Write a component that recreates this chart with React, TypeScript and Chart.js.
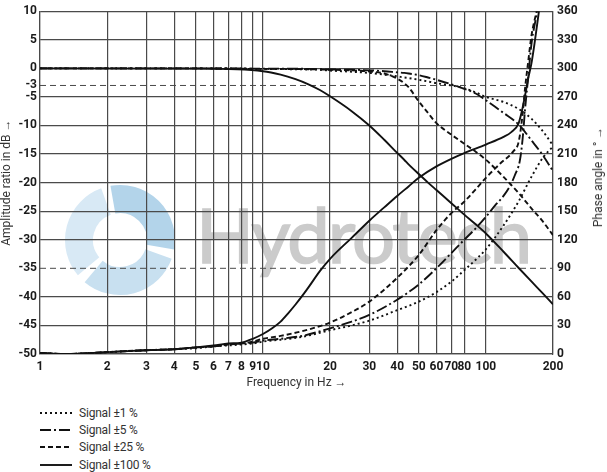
import React, { useEffect, useRef } from "react";
import { Chart, registerables } from "chart.js";

Chart.register(...registerables);

// ---- axis ticks ----
const xTicks = [1, 2, 3, 4, 5, 6, 7, 8, 9, 10, 20, 30, 40, 50, 60, 70, 80, 100, 200];
const ampTicks = [10, 5, 0, -3, -5, -10, -15, -20, -25, -30, -35, -40, -45, -50];
const phaseTicks = [0, 30, 60, 90, 120, 150, 180, 210, 240, 270, 300, 330, 360];
const refLevels = [-3, -35];

// ---- series labels ----
const seriesNames = ["Signal ±1 %", "Signal ±5 %", "Signal ±25 %", "Signal ±100 %"];

// ---- amplitude (dB) ----
const ampFreq = [1, 5, 10, 12, 14, 16, 18, 20, 25, 30, 35, 40, 43, 45, 50, 55, 60, 70, 80, 90, 100, 120, 140, 160, 180, 200];
const amp1 = [0, 0, -0.1, -0.13, -0.16, -0.2, -0.25, -0.4, -0.6, -0.8, -1.1, -1.4, -1.6, -1.7, -2.0, -2.3, -2.6, -3.0, -3.5, -4.2, -5.0, -5.9, -7.1, -8.8, -11.0, -13.5];
const amp5 = [0, 0, -0.05, -0.05, -0.07, -0.1, -0.15, -0.2, -0.25, -0.35, -0.5, -0.7, -0.8, -0.9, -1.2, -1.6, -2.0, -2.8, -3.6, -4.4, -5.6, -7.8, -9.8, -12.6, -15.2, -18.0];
const amp25 = [0, 0, -0.1, -0.1, -0.12, -0.15, -0.2, -0.25, -0.35, -0.55, -0.9, -1.8, -2.6, -3.3, -5.8, -7.8, -9.6, -11.6, -13.2, -14.6, -16.0, -19.0, -21.8, -24.5, -26.8, -29.2];
const amp100 = [0, -0.05, -0.5, -1.1, -1.9, -2.8, -3.8, -4.9, -7.5, -10.0, -12.5, -14.8, -16.0, -16.8, -18.5, -20.0, -21.3, -23.6, -25.6, -27.3, -28.9, -32.1, -34.9, -37.3, -39.4, -41.3];

// ---- phase (deg) ----
const phase1Freq = [1, 1.3, 2, 3, 4, 5, 6, 7, 8, 9, 10, 12, 15, 20, 25, 30, 40, 50, 60, 70, 80, 90, 100, 120, 140, 160, 180, 200];
const phase1 = [1, 0, 2, 4, 5, 6, 8, 9, 10, 11, 13, 15, 18, 25, 30, 35, 46, 55, 65, 76, 88, 99, 110, 135, 160, 186, 206, 218];

const phase5Freq = [1, 1.3, 2, 3, 4, 5, 6, 7, 8, 9, 10, 12, 15, 20, 25, 30, 40, 50, 60, 70, 80, 90, 100, 110, 120, 128, 135, 142, 146, 150, 155, 160, 170];
const phase5 = [1, 0, 2, 4, 5, 7, 8, 10, 11, 12, 14, 16, 19, 27, 34, 41, 57, 73, 90, 106, 120, 132, 144, 156, 166, 176, 188, 203, 225, 258, 292, 325, 360];

const phase25Freq = [1, 1.3, 2, 3, 4, 5, 6, 7, 8, 9, 10, 12, 15, 20, 25, 30, 40, 50, 60, 70, 80, 90, 100, 116, 133, 140, 145, 150, 155, 160, 169];
const phase25 = [1, 0, 2, 4, 5, 7, 8, 10, 11, 13, 16, 19, 24, 33, 44, 55, 80, 104, 130, 148, 160, 173, 185, 200, 213, 222, 245, 280, 308, 334, 360];

const phase100Freq = [1, 1.3, 2, 3, 4, 5, 6, 7, 8, 9, 10, 11, 12, 13, 14, 15, 16, 18, 20, 25, 30, 35, 40, 45, 50, 60, 70, 80, 100, 120, 130, 140, 145, 150, 155, 160, 165, 173];
const phase100 = [1, 0, 2, 4, 5, 7, 9, 11, 12, 16, 21, 27, 34, 43, 52, 61, 70, 87, 100, 122, 140, 154, 166, 176, 185, 197, 205, 211, 220, 228, 233, 242, 255, 272, 290, 305, 325, 360];

const styles = [
  { dash: [2, 3], svgDash: "2 3" },
  { dash: [11, 3, 2, 3], svgDash: "11 3 2 3" },
  { dash: [5, 3], svgDash: "5 3" },
  { dash: [], svgDash: "" },
];

const pts = (xs: number[], ys: number[]) => xs.map((x, i) => ({ x, y: ys[i] }));

const FAMILY = "Roboto, 'Liberation Sans', sans-serif";
const tickFont = { family: FAMILY, size: 12, weight: "bold" as const };
const titleFont = { family: FAMILY, size: 12, weight: "normal" as const };
const gridColor = "#4a4a4a";

export default function App() {
  const ref = useRef<HTMLCanvasElement | null>(null);

  useEffect(() => {
    if (!ref.current) return;
    const ampSets = [amp1, amp5, amp25, amp100];
    const phaseSets: [number[], number[]][] = [
      [phase1Freq, phase1],
      [phase5Freq, phase5],
      [phase25Freq, phase25],
      [phase100Freq, phase100],
    ];
    const datasets: any[] = [];
    ampSets.forEach((a, i) => {
      datasets.push({
        label: seriesNames[i] + " amp",
        data: pts(ampFreq, a),
        yAxisID: "y",
        borderColor: "#111",
        borderWidth: 1.9,
        borderDash: styles[i].dash,
        pointRadius: 0,
        cubicInterpolationMode: "monotone",
        fill: false,
      });
    });
    phaseSets.forEach(([f, p], i) => {
      datasets.push({
        label: seriesNames[i] + " phase",
        data: pts(f, p),
        yAxisID: "y2",
        borderColor: "#111",
        borderWidth: 1.9,
        borderDash: styles[i].dash,
        pointRadius: 0,
        cubicInterpolationMode: "monotone",
        fill: false,
      });
    });
    refLevels.forEach((lv) => {
      datasets.push({
        label: "ref " + lv,
        data: [
          { x: xTicks[0], y: lv },
          { x: xTicks[xTicks.length - 1], y: lv },
        ],
        yAxisID: "y",
        borderColor: gridColor,
        borderWidth: 1,
        borderDash: [6, 4],
        pointRadius: 0,
        fill: false,
      });
    });

    const chart = new Chart(ref.current, {
      type: "line",
      data: { datasets },
      options: {
        animation: false,
        responsive: false,
        maintainAspectRatio: false,
        layout: { padding: { top: 5, left: 0, right: 0, bottom: 0 } },
        plugins: { legend: { display: false }, tooltip: { enabled: false } },
        scales: {
          x: {
            type: "logarithmic",
            min: 1,
            max: 200,
            afterBuildTicks: (s: any) => {
              s.ticks = xTicks.map((v) => ({ value: v }));
            },
            afterFit: (s: any) => {
              s.height = 46;
            },
            ticks: {
              autoSkip: false,
              maxRotation: 0,
              padding: 6,
              color: "#1a1a1a",
              font: tickFont,
              callback: (v: any) => String(v),
            },
            grid: { color: gridColor, lineWidth: 1.2, drawTicks: false },
            border: { color: gridColor, width: 1.2 },
            title: {
              display: true,
              text: "Frequency in Hz →",
              color: "#333",
              font: titleFont,
              padding: { top: 10, bottom: 10 },
            },
          },
          y: {
            type: "linear",
            position: "left",
            min: -50,
            max: 10,
            afterBuildTicks: (s: any) => {
              s.ticks = ampTicks.map((v) => ({ value: v }));
            },
            afterFit: (s: any) => {
              s.width = 40;
            },
            ticks: {
              autoSkip: false,
              padding: 3,
              color: "#1a1a1a",
              font: tickFont,
            },
            grid: {
              color: (c: any) =>
                c.tick && refLevels.includes(c.tick.value) ? "rgba(0,0,0,0)" : gridColor,
              lineWidth: 1.2,
              drawTicks: false,
            },
            border: { color: gridColor, width: 1.2 },
            title: {
              display: true,
              text: "Amplitude ratio in dB →",
              color: "#333",
              font: titleFont,
              padding: { top: 0, bottom: 0 },
            },
          },
          y2: {
            type: "linear",
            position: "right",
            min: 0,
            max: 360,
            afterBuildTicks: (s: any) => {
              s.ticks = phaseTicks.map((v) => ({ value: v }));
            },
            afterFit: (s: any) => {
              s.width = 54;
            },
            ticks: {
              autoSkip: false,
              padding: 4,
              color: "#1a1a1a",
              font: tickFont,
            },
            grid: { drawOnChartArea: false, drawTicks: false },
            border: { color: gridColor, width: 1.2 },
          },
        },
      },
    });
    return () => chart.destroy();
  }, []);

  const swirl = (a1: number, a2: number, color: string) => {
    const cx = 120, cy = 240, r = 41;
    const rad = (d: number) => (d * Math.PI) / 180;
    const x1 = cx + r * Math.cos(rad(a1));
    const y1 = cy + r * Math.sin(rad(a1));
    const x2 = cx + r * Math.cos(rad(a2));
    const y2 = cy + r * Math.sin(rad(a2));
    return (
      <path
        d={`M ${x1} ${y1} A ${r} ${r} 0 0 1 ${x2} ${y2}`}
        stroke={color}
        strokeWidth={28}
        fill="none"
      />
    );
  };

  return (
    <div style={{ position: "fixed", left: 0, top: 0, width: 607, height: 472, background: "#fff", overflow: "hidden" }}>
      <svg width={607} height={472} style={{ position: "absolute", left: 0, top: 0 }}>
        {swirl(-100, 10, "#b3d4ea")}
        {swirl(20, 130, "#c8e0f0")}
        {swirl(140, 250, "#d8e9f5")}
      </svg>
      <div
        style={{
          position: "absolute",
          left: 196,
          top: 189,
          fontFamily: "Lato, 'Open Sans', sans-serif",
          fontSize: 76,
          color: "#cbcbcb",
          letterSpacing: -2,
          lineHeight: "90px",
          whiteSpace: "nowrap",
          WebkitTextStroke: "1.6px #cbcbcb",
        }}
      >
        Hydrotech
      </div>
      <canvas ref={ref} width={607} height={400} style={{ position: "absolute", left: 0, top: 0 }} />
      <div
        style={{
          position: "absolute",
          left: 598,
          top: 177,
          transform: "translate(-50%, -50%) rotate(-90deg)",
          fontFamily: FAMILY,
          fontSize: 12,
          color: "#333",
          whiteSpace: "nowrap",
        }}
      >
        Phase angle in ° →
      </div>
      <div style={{ position: "absolute", left: 40, top: 404 }}>
        {seriesNames.map((n, i) => (
          <div key={n} style={{ display: "flex", alignItems: "center", height: 17.3 }}>
            <svg width={34} height={10} style={{ marginRight: 5 }}>
              <line x1={0} y1={5} x2={32} y2={5} stroke="#111" strokeWidth={1.9} strokeDasharray={styles[i].svgDash || undefined} />
            </svg>
            <span
              style={{
                fontFamily: FAMILY,
                fontSize: 12,
                letterSpacing: -0.2,
                color: "#333",
                whiteSpace: "nowrap",
              }}
            >
              {n}
            </span>
          </div>
        ))}
      </div>
    </div>
  );
}
